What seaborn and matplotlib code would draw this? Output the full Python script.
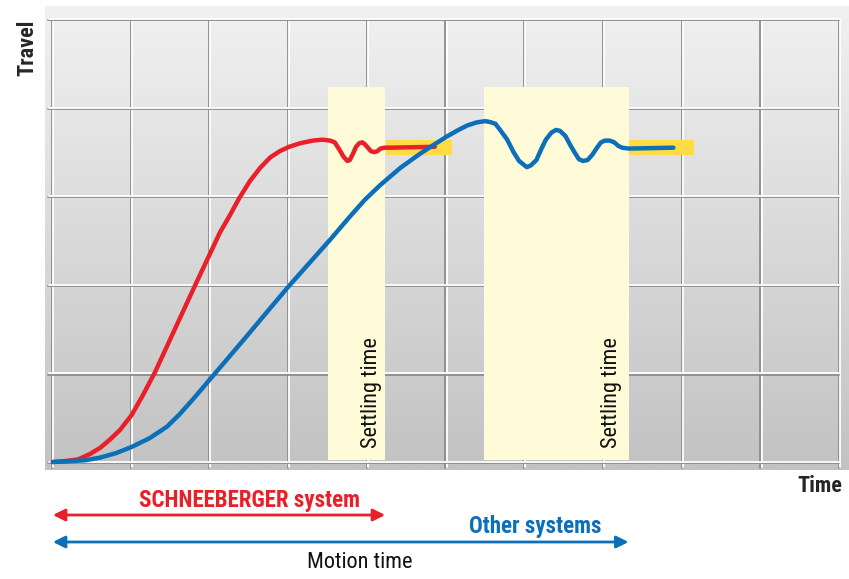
import numpy as np
import pandas as pd
import matplotlib
matplotlib.use("Agg")
import matplotlib.pyplot as plt
import matplotlib.patheffects as pe
import seaborn as sns

# curve values (time units, travel units)
red_time = [0.00, 0.15, 0.32, 0.47, 0.60, 0.72, 0.85, 1.00, 1.14, 1.30, 1.44, 1.59, 1.72,
            1.84, 2.01, 2.12, 2.25, 2.36, 2.50, 2.63, 2.76, 2.88, 3.00, 3.14, 3.30, 3.42,
            3.52, 3.58, 3.63, 3.69, 3.74, 3.77, 3.81, 3.85, 3.89, 3.93, 3.96, 4.00, 4.04,
            4.08, 4.12, 4.16, 4.21, 4.28, 4.85]
red_travel = [0.00, 0.01, 0.03, 0.09, 0.16, 0.25, 0.36, 0.53, 0.75, 1.02, 1.29, 1.58, 1.83,
              2.06, 2.38, 2.59, 2.79, 2.97, 3.17, 3.32, 3.44, 3.51, 3.56, 3.60, 3.63, 3.64,
              3.63, 3.61, 3.54, 3.45, 3.40, 3.41, 3.48, 3.56, 3.60, 3.61, 3.59, 3.55, 3.51,
              3.50, 3.51, 3.54, 3.55, 3.55, 3.56]

blue_time = [0.00, 0.22, 0.41, 0.60, 0.80, 1.00, 1.23, 1.45, 1.61, 1.80, 2.01, 2.25, 2.47,
             2.63, 2.80, 3.00, 3.27, 3.52, 3.77, 3.96, 4.16, 4.41, 4.66, 4.85, 5.01, 5.15,
             5.26, 5.38, 5.49, 5.55, 5.62, 5.68, 5.77, 5.85, 5.92, 5.99, 6.02, 6.07, 6.14,
             6.20, 6.26, 6.33, 6.39, 6.44, 6.51, 6.57, 6.63, 6.68, 6.73, 6.79, 6.85, 6.91,
             6.96, 7.01, 7.07, 7.13, 7.18, 7.23, 7.31, 7.88]
blue_travel = [0.00, 0.01, 0.02, 0.05, 0.10, 0.17, 0.27, 0.40, 0.54, 0.73, 0.95, 1.20, 1.43,
               1.60, 1.78, 1.99, 2.26, 2.51, 2.77, 2.96, 3.13, 3.32, 3.48, 3.59, 3.68, 3.75,
               3.80, 3.835, 3.85, 3.84, 3.82, 3.75, 3.64, 3.50, 3.40, 3.35, 3.33, 3.35, 3.41,
               3.53, 3.64, 3.72, 3.75, 3.74, 3.68, 3.58, 3.49, 3.42, 3.40, 3.41, 3.47, 3.55,
               3.61, 3.63, 3.63, 3.61, 3.57, 3.55, 3.54, 3.55]

settle_red = (3.49, 4.22)
settle_blue = (5.48, 7.31)
settle_top = 4.23
target_red = (4.23, 5.07)
target_blue = (7.31, 8.14)
target_band = (3.47, 3.64)

RED = "#e8202a"
BLUE = "#0b70b9"
GOLD = "#ffdc45"
CREAM = "#fffad8"

sns.set_style("white")
plt.rcParams["font.family"] = ["Roboto Condensed", "Roboto", "DejaVu Sans"]

fig = plt.figure(figsize=(8.49, 5.79), dpi=100)
ax = fig.add_axes([45 / 849, 109 / 579, 804 / 849, 464 / 579])
ax.set_xlim(-0.10, 10.11)
ax.set_ylim(-0.09, 5.15)
ax.axis("off")

# gradient background
grad = np.linspace(0, 1, 256).reshape(-1, 1)
ax.imshow(grad, extent=(-0.10, 10.11, -0.09, 5.15), aspect="auto", origin="upper",
          cmap=matplotlib.colors.LinearSegmentedColormap.from_list("bg", ["#f1f1f1", "#c2c2c2"]),
          zorder=0)

# grid with a small shadow
shadow = [pe.SimpleLineShadow(offset=(-0.8, -0.8), shadow_color="#8c8c8c", alpha=1), pe.Normal()]
for gx in range(11):
    ax.plot([gx, gx], [-0.06, 5.0], color="white", lw=1.3, zorder=1, path_effects=shadow)
for gy in range(6):
    ax.plot([-0.05, 10.0], [gy, gy], color="white", lw=1.3, zorder=1 if gy else 3,
            path_effects=shadow)

# settling time bands
for lo, hi in [settle_red, settle_blue]:
    ax.fill_between([lo, hi], 0.02, settle_top, color=CREAM, lw=0, zorder=2)
for lo, hi in [target_red, target_blue]:
    ax.fill_between([lo, hi], target_band[0], target_band[1], color=GOLD, lw=0, zorder=2.5)

df = pd.concat([
    pd.DataFrame({"time": red_time, "travel": red_travel, "system": "SCHNEEBERGER"}),
    pd.DataFrame({"time": blue_time, "travel": blue_travel, "system": "Other"}),
])
sns.lineplot(data=df, x="time", y="travel", hue="system", palette={"SCHNEEBERGER": RED, "Other": BLUE},
             sort=False, estimator=None, lw=3.2, legend=False, ax=ax, zorder=4)
for ln in ax.get_lines()[-2:]:
    ln.set_solid_capstyle("round")
    ln.set_solid_joinstyle("round")

for sx in [4.05, 7.10]:
    ax.text(sx, 0.16, "Settling time", rotation=90, ha="center", va="bottom", fontsize=16,
            color="#111111", zorder=5)

fig.text(27 / 849, 1 - 48 / 579, "Travel", rotation=90, ha="center", va="center",
         fontsize=16, fontweight="bold")
fig.text(842 / 849, 1 - 486 / 579, "Time", ha="right", va="center", fontsize=16, fontweight="bold")

# motion time arrows
arrow = dict(arrowstyle="<|-|>", mutation_scale=18, lw=2, shrinkA=0, shrinkB=0)
ax.annotate("", xy=(settle_red[1], 64), xytext=(0, 64), xycoords=("data", "figure pixels"),
            textcoords=("data", "figure pixels"), arrowprops=dict(arrow, color=RED),
            annotation_clip=False)
ax.annotate("", xy=(settle_blue[1], 37), xytext=(0, 37), xycoords=("data", "figure pixels"),
            textcoords=("data", "figure pixels"), arrowprops=dict(arrow, color=BLUE),
            annotation_clip=False)
fig.text(250 / 849, 1 - 500 / 579, "SCHNEEBERGER system", ha="center", va="center",
         fontsize=16.5, fontweight="bold", color=RED)
fig.text(535 / 849, 1 - 527 / 579, "Other systems", ha="center", va="center",
         fontsize=16.5, fontweight="bold", color=BLUE)
fig.text(360 / 849, 1 - 563 / 579, "Motion time", ha="center", va="center",
         fontsize=16, color="#111111")

fig.savefig("out.png", dpi=100)
